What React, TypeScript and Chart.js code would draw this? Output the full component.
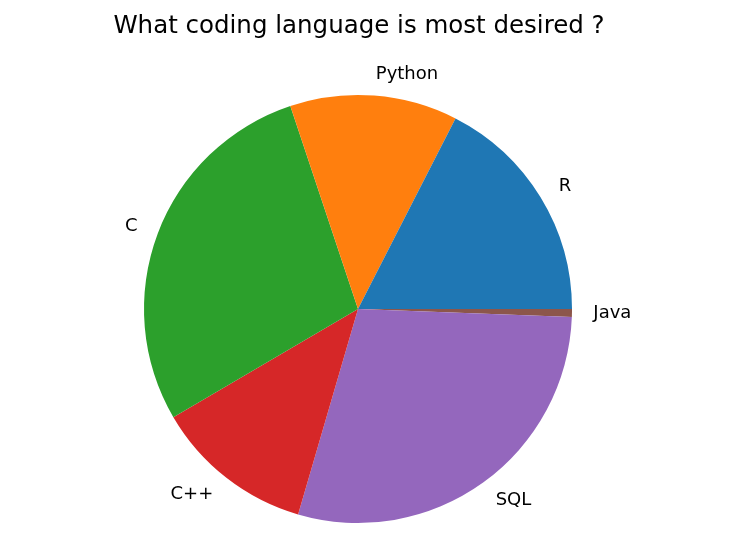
import React, { useEffect, useRef } from "react";
import { Chart, registerables } from "chart.js";

Chart.register(...registerables);

const TITLE = "What coding language is most desired ?";
const LABELS = ["R", "Python", "C", "C++", "SQL", "Java"];
const VALUES = [29, 21, 47, 20, 48, 1];
const COLORS = ["#1f77b4", "#ff7f0e", "#2ca02c", "#d62728", "#9467bd", "#8c564b"];

const FONT = "'DejaVu Sans', sans-serif";

const outsideLabels = {
  id: "outsideLabels",
  afterDraw(chart: any) {
    const ctx = chart.ctx;
    const meta = chart.getDatasetMeta(0);
    const labels = chart.data.labels as string[];
    ctx.save();
    ctx.fillStyle = "#000";
    ctx.font = `18px ${FONT}`;
    ctx.textBaseline = "middle";
    meta.data.forEach((arc: any, i: number) => {
      const mid = (arc.startAngle + arc.endAngle) / 2;
      const r = arc.outerRadius * 1.1;
      const x = arc.x + Math.cos(mid) * r;
      const y = arc.y + Math.sin(mid) * r;
      ctx.textAlign = Math.cos(mid) > 0 ? "left" : "right";
      ctx.fillText(labels[i], x, y);
    });
    ctx.font = `24.5px ${FONT}`;
    ctx.textAlign = "center";
    ctx.textBaseline = "alphabetic";
    ctx.fillText(TITLE, 359, 33);
    ctx.restore();
  },
};

export default function App() {
  const ref = useRef<HTMLCanvasElement>(null);
  useEffect(() => {
    if (!ref.current) return;
    // matplotlib draws counter-clockwise from 3 o'clock; Chart.js draws clockwise,
    // so reverse order and start at 3 o'clock.
    const labels = [...LABELS].reverse();
    const values = [...VALUES].reverse();
    const colors = [...COLORS].reverse();
    const chart = new Chart(ref.current, {
      type: "pie",
      data: {
        labels,
        datasets: [
          {
            data: values,
            backgroundColor: colors,
            borderWidth: 0,
          },
        ],
      },
      options: {
        responsive: false,
        animation: false,
        rotation: 90,
        layout: { padding: { left: 144, right: 166, top: 95, bottom: 30 } },
        plugins: {
          legend: { display: false },
          title: { display: false },
          tooltip: { enabled: false },
        },
      },
      plugins: [outsideLabels],
    });
    return () => chart.destroy();
  }, []);
  return (
    <div style={{ position: "fixed", left: 0, top: 0, width: 738, height: 553, background: "#fff" }}>
      <canvas ref={ref} width={738} height={553} />
    </div>
  );
}
